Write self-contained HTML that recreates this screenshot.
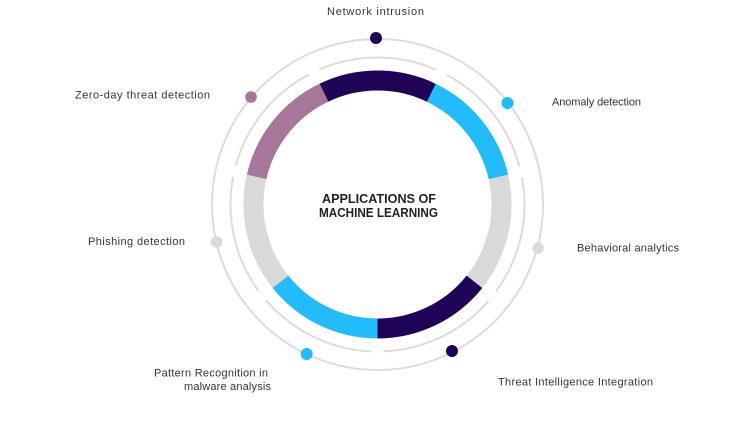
<!DOCTYPE html>
<html>
<head>
<meta charset="utf-8">
<style>
  html,body{margin:0;padding:0;background:#fff;}
  body{width:755px;height:422px;overflow:hidden;}
  svg{display:block;}
  .lbl{font-family:"Liberation Sans",sans-serif;font-size:11px;fill:#333;}
  .ttl{font-family:"Liberation Sans",sans-serif;font-size:12.5px;font-weight:bold;fill:#222;}
</style>
</head>
<body>
<svg width="755" height="422" viewBox="0 0 755 422" xmlns="http://www.w3.org/2000/svg">
  <!-- outer circle -->
  <circle cx="377.5" cy="204.5" r="165.5" fill="none" stroke="#dcdcdc" stroke-width="2"/>
  <!-- middle dashed circle -->
  <circle cx="377.5" cy="204.5" r="147" fill="none" stroke="#dcdcdc" stroke-width="2"
          stroke-dasharray="120 11.947" transform="rotate(-61.95 377.5 204.5)"/>
  <!-- colored ring segments -->
  <g fill="none" stroke-width="20">
    <circle cx="377.5" cy="204.5" r="124" stroke="#1f0356" stroke-dasharray="111.6 667.5" transform="rotate(-115.71 377.5 204.5)"/>
    <circle cx="377.5" cy="204.5" r="124" stroke="#22bbfc" stroke-dasharray="111.6 667.5" transform="rotate(-64.29 377.5 204.5)"/>
    <circle cx="377.5" cy="204.5" r="124" stroke="#d9d9d9" stroke-dasharray="111.6 667.5" transform="rotate(-12.86 377.5 204.5)"/>
    <circle cx="377.5" cy="204.5" r="124" stroke="#1f0356" stroke-dasharray="111.6 667.5" transform="rotate(38.57 377.5 204.5)"/>
    <circle cx="377.5" cy="204.5" r="124" stroke="#22bbfc" stroke-dasharray="111.6 667.5" transform="rotate(90 377.5 204.5)"/>
    <circle cx="377.5" cy="204.5" r="124" stroke="#d9d9d9" stroke-dasharray="111.6 667.5" transform="rotate(141.43 377.5 204.5)"/>
    <circle cx="377.5" cy="204.5" r="124" stroke="#a6779b" stroke-dasharray="111.6 667.5" transform="rotate(192.86 377.5 204.5)"/>
  </g>
  <!-- dots -->
  <circle cx="376" cy="38" r="6" fill="#1f0356"/>
  <circle cx="507.5" cy="103" r="6" fill="#22bbfc"/>
  <circle cx="538" cy="248" r="5.8" fill="#d9d9d9"/>
  <circle cx="452" cy="351" r="6" fill="#1f0356"/>
  <circle cx="306.7" cy="354" r="6" fill="#22bbfc"/>
  <circle cx="216.6" cy="242" r="5.8" fill="#d9d9d9"/>
  <circle cx="251" cy="97" r="5.8" fill="#a6779b"/>

  <!-- title -->
  <text class="ttl" x="322" y="203" textLength="114" lengthAdjust="spacingAndGlyphs">APPLICATIONS OF</text>
  <text class="ttl" x="319" y="217" textLength="119" lengthAdjust="spacingAndGlyphs">MACHINE LEARNING</text>

  <!-- labels -->
  <text class="lbl" x="327" y="15" textLength="97" lengthAdjust="spacing">Network intrusion</text>
  <text class="lbl" x="75" y="98.3" textLength="135" lengthAdjust="spacing">Zero-day threat detection</text>
  <text class="lbl" x="552" y="105.5" textLength="89" lengthAdjust="spacing">Anomaly detection</text>
  <text class="lbl" x="88" y="245" textLength="97" lengthAdjust="spacing">Phishing detection</text>
  <text class="lbl" x="577" y="251.5" textLength="102" lengthAdjust="spacing">Behavioral analytics</text>
  <text class="lbl" x="154" y="376.3" textLength="114" lengthAdjust="spacing">Pattern Recognition in</text>
  <text class="lbl" x="184" y="390" textLength="87" lengthAdjust="spacing">malware analysis</text>
  <text class="lbl" x="498" y="385.7" textLength="155" lengthAdjust="spacing">Threat Intelligence Integration</text>
</svg>
</body>
</html>
